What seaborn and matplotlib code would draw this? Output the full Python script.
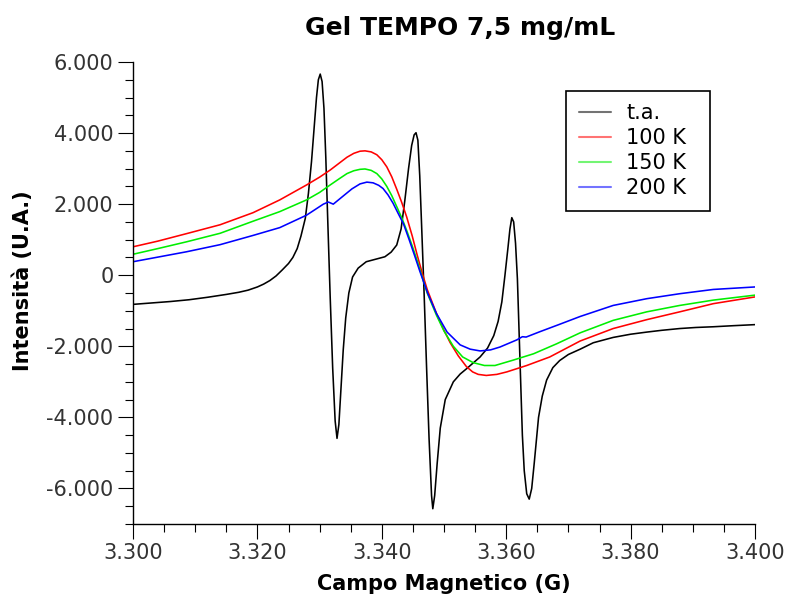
import pandas as pd
import matplotlib
matplotlib.use('Agg')
import matplotlib.pyplot as plt
import seaborn as sns
from matplotlib.ticker import MultipleLocator, FuncFormatter

# Spettri EPR (campo in G, intensità in U.A.)
serie = ['t.a.', '100 K', '150 K', '200 K']
colori = ['#000000', '#ff0000', '#00ee00', '#0000ff']

ta_campo = [3300, 3303, 3306, 3309, 3312, 3315, 3317, 3318.5, 3320, 3321, 3322, 3323,
            3324, 3325, 3325.7, 3326.4, 3327, 3327.7, 3328.2, 3328.7, 3329.1, 3329.5,
            3329.8, 3330.1, 3330.4, 3330.7, 3331.0, 3331.3, 3331.7, 3332.1, 3332.5,
            3332.8, 3333.1, 3333.4, 3333.8, 3334.2, 3334.7, 3335.3, 3336.2, 3337.5,
            3339.0, 3340.5, 3341.5, 3342.4, 3343.1, 3343.7, 3344.3, 3344.8, 3345.2,
            3345.5, 3345.8, 3346.1, 3346.4, 3346.8, 3347.2, 3347.6, 3348.0, 3348.2,
            3348.5, 3348.9, 3349.4, 3350.2, 3351.5, 3352.6, 3353.7, 3355.8, 3357.0,
            3358.0, 3358.7, 3359.3, 3359.8, 3360.3, 3360.6, 3360.9, 3361.2, 3361.5,
            3361.8, 3362.2, 3362.6, 3362.9, 3363.3, 3363.7, 3364.1, 3364.5, 3365.2,
            3365.8, 3366.5, 3367.5, 3368.6, 3370, 3371.9, 3374, 3377.2, 3380,
            3382.6, 3385, 3387.9, 3390.5, 3393.3, 3396.5, 3400]
ta_int = [-820, -780, -740, -690, -620, -540, -480, -420, -330, -250, -150, -20,
          150, 330, 500, 750, 1100, 1600, 2300, 3200, 4100, 5000,
          5500, 5660, 5450, 4700, 3300, 1600, -600, -2600, -4100,
          -4590, -4200, -3300, -2100, -1200, -500, -50, 200, 380,
          450, 520, 650, 850, 1300, 2100, 3000, 3650, 3950,
          4010, 3800, 2800, 1400, -500, -2600, -4600, -6200, -6570,
          -6200, -5300, -4300, -3500, -3000, -2780, -2620, -2300, -2050,
          -1700, -1300, -750, 0, 800, 1300, 1620, 1500, 900,
          -100, -2300, -4500, -5500, -6150, -6300, -6000, -5300, -4000,
          -3400, -2950, -2600, -2400, -2230, -2080, -1900, -1750, -1660,
          -1600, -1550, -1500, -1470, -1450, -1420, -1390]

k100_campo = [3300, 3304, 3308.6, 3314, 3319.3, 3323.6, 3327.9, 3330, 3331.7, 3333.2,
              3334.4, 3335.5, 3336.5, 3337.3, 3338.3, 3339.2, 3340, 3340.8, 3341.6,
              3342.4, 3343.2, 3344.0, 3344.9, 3345.7, 3346.5, 3347.3, 3348.8,
              3350, 3351, 3352.3, 3353.6, 3354.6, 3355.5, 3356.8, 3358.5, 3360.1,
              3363.3, 3367, 3371.9, 3377.2, 3382.6, 3387.9, 3393.3, 3400]
k100_int = [800, 960, 1170, 1420, 1760, 2120, 2540, 2760, 2960, 3160,
            3320, 3430, 3490, 3500, 3470, 3390, 3250, 3050, 2770,
            2420, 2050, 1640, 1100, 560, 60, -400, -1080,
            -1550, -1900, -2270, -2570, -2720, -2790, -2820, -2790, -2720,
            -2540, -2300, -1850, -1500, -1250, -1030, -800, -610]

k150_campo = [3300, 3304, 3308.6, 3314, 3319.3, 3323.6, 3327.9, 3330, 3331.7, 3333.2,
              3334.4, 3335.5, 3336.5, 3337.3, 3338.3, 3339.2, 3340, 3340.8, 3341.6,
              3342.4, 3343.2, 3344, 3344.9, 3345.7, 3346.5, 3347.3, 3348.8,
              3350, 3351.5, 3353, 3354.7, 3356.5, 3358.2, 3361.1, 3364.4, 3368.1,
              3371.9, 3377.2, 3382.6, 3387.9, 3393.3, 3400]
k150_int = [590, 750, 940, 1180, 1520, 1790, 2120, 2330, 2540, 2720,
            2860, 2940, 2980, 2990, 2950, 2860, 2710, 2500, 2240,
            1930, 1620, 1260, 820, 400, -50, -500, -1130,
            -1570, -2000, -2300, -2460, -2540, -2540, -2390, -2210, -1930,
            -1620, -1270, -1030, -850, -700, -560]

k200_campo = [3300, 3304, 3308.6, 3314, 3319.3, 3323.6, 3327.9, 3330.6, 3331.4, 3332.2,
              3333.8, 3335.2, 3336.5, 3337.6, 3338.6, 3339.5, 3340.2, 3341, 3341.8,
              3342.6, 3343.5, 3344.4, 3345.3, 3346.1, 3347.4, 3348.8, 3350.5, 3352.6,
              3354.2, 3355.8, 3357.5, 3359, 3361.7, 3362.6, 3363.2, 3365.4, 3368.6,
              3371.9, 3377.2, 3382.6, 3387.9, 3393.3, 3400]
k200_int = [380, 510, 660, 860, 1120, 1340, 1690, 2000, 2060, 2000,
            2230, 2430, 2570, 2620, 2600, 2530, 2440, 2260, 2030,
            1750, 1440, 1000, 540, 120, -520, -1080, -1600, -1960,
            -2080, -2130, -2100, -2020, -1820, -1730, -1740, -1590, -1380,
            -1160, -850, -660, -520, -400, -330]

x_ticks = [3300, 3320, 3340, 3360, 3380, 3400]
y_ticks = [-6000, -4000, -2000, 0, 2000, 4000, 6000]


def formato_it(v, pos):
    # separatore delle migliaia all'italiana
    return f'{int(round(v)):,}'.replace(',', '.')


campi = [ta_campo, k100_campo, k150_campo, k200_campo]
intens = [ta_int, k100_int, k150_int, k200_int]
df = pd.concat([pd.DataFrame({'campo': c, 'intensita': i, 'serie': s})
                for c, i, s in zip(campi, intens, serie)], ignore_index=True)

sns.set_style('ticks')
plt.rcParams['font.family'] = ['DejaVu Sans']
plt.rcParams['text.color'] = 'black'
plt.rcParams['axes.labelcolor'] = 'black'

fig = plt.figure(figsize=(7.87, 5.99), dpi=100)
ax = fig.add_axes([133 / 787, 1 - 524 / 599, 622 / 787, 462 / 599])

sns.lineplot(data=df, x='campo', y='intensita', hue='serie', hue_order=serie,
             palette=colori, sort=False, estimator=None, linewidth=1.15, ax=ax)

ax.set_xlim(3300, 3400)
ax.set_ylim(-7000, 6000)
ax.set_xticks(x_ticks)
ax.set_yticks(y_ticks)
ax.xaxis.set_minor_locator(MultipleLocator(5))
ax.yaxis.set_minor_locator(MultipleLocator(500))
ax.xaxis.set_major_formatter(FuncFormatter(formato_it))
ax.yaxis.set_major_formatter(FuncFormatter(formato_it))
ax.tick_params(which='major', length=11, width=0.8, labelsize=15,
               labelcolor='#333333', color='black', pad=3)
ax.tick_params(which='minor', length=6, width=0.8, color='black')
sns.despine(ax=ax)
for s in ['left', 'bottom']:
    ax.spines[s].set_linewidth(1.0)
    ax.spines[s].set_color('black')

ax.set_xlabel('Campo Magnetico (G)', fontsize=15, fontweight='bold', color='black')
ax.set_ylabel('Intensità (U.A.)', fontsize=15, fontweight='bold', color='black')
ax.xaxis.set_label_coords(0.5, -0.108)
ax.yaxis.set_label_coords(-0.16, 0.526)

fig.text(460 / 787, 1 - 28 / 599, 'Gel TEMPO 7,5 mg/mL', ha='center', va='center',
         fontsize=18, fontweight='bold', color='black')

leg = ax.legend(loc='upper left', mode='expand',
                bbox_to_anchor=(566 / 787, 1 - 210 / 599, 144 / 787, 119 / 599),
                bbox_transform=fig.transFigure, borderaxespad=0, fontsize=15,
                frameon=True, fancybox=False, framealpha=1, edgecolor='black',
                handlelength=1.55, handletextpad=0.75, labelspacing=0.24,
                borderpad=0.6, title=None)
leg.get_frame().set_linewidth(1.2)
for h in leg.get_lines():
    h.set_alpha(0.55)
    h.set_linewidth(1.5)

fig.savefig('out.png', dpi=100)
